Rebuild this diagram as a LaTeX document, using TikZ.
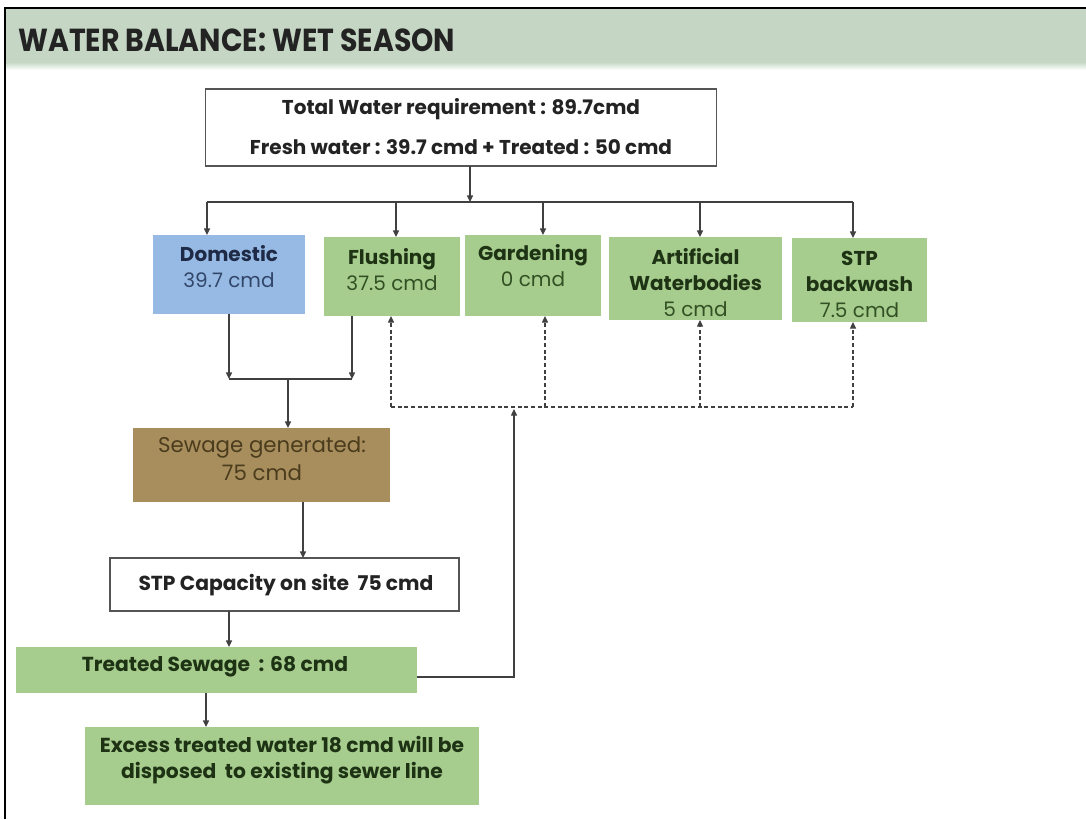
\documentclass[tikz,border=0pt]{standalone}
\usepackage{fontspec}
\setmainfont{Poppins}
\usepackage{graphicx}
\usetikzlibrary{arrows.meta}
\definecolor{hdrgreen}{RGB}{197,215,196}
\definecolor{domblue}{RGB}{150,186,228}
\definecolor{boxgreen}{RGB}{166,205,142}
\definecolor{sewbrown}{RGB}{168,142,92}
\definecolor{linegray}{RGB}{64,64,64}
\definecolor{bordergray}{RGB}{85,85,85}
\definecolor{txtdark}{RGB}{35,35,35}
\definecolor{navytxt}{RGB}{30,42,70}
\definecolor{blueval}{RGB}{50,70,105}
\definecolor{greentxt}{RGB}{30,50,20}
\definecolor{greenval}{RGB}{50,80,35}
\definecolor{browntxt}{RGB}{75,60,30}
\tikzset{
  sz/.style 2 args={minimum width=#1*0.75pt, minimum height=#2*0.75pt},
  base/.style={rectangle, inner sep=0pt, outer sep=0pt},
  whitebox/.style={base, draw=bordergray, line width=1.4pt, fill=white},
  bluebox/.style={base, fill=domblue},
  greenbox/.style={base, fill=boxgreen},
  brownbox/.style={base, fill=sewbrown},
  lbl/.style={inner sep=0pt, align=center, font=\fontsize{15}{19.5}\selectfont},
  conn/.style={draw=linegray, line width=1pt, -{Triangle[length=5pt,width=4.5pt]}},
  plain/.style={draw=linegray, line width=1pt},
  dline/.style={draw=linegray, line width=1pt, dash pattern=on 3pt off 2pt},
  dconn/.style={dline, -{Triangle[length=5pt,width=4.5pt]}},
}
\begin{document}
\begin{tikzpicture}[x=0.75pt,y=-0.75pt]
\useasboundingbox (0,0) rectangle (1086,819);
\fill[white] (0,0) rectangle (1086,819);
% header band
\fill[hdrgreen] (5,9) rectangle (1086,62);
\shade[top color=hdrgreen, bottom color=white] (5,62) rectangle (1086,70);
\draw[black, line width=1.2pt] (5,819) -- (5,8) -- (1086,8);
\node[anchor=west, inner sep=0pt, text=txtdark] (title) at (18,40)
  {\resizebox{327.75pt}{17pt}{\bfseries WATER BALANCE: WET SEASON}};

% top box
\node[whitebox, sz={511}{77}] (top) at (461,127.5) {};
\node[lbl, text=txtdark, font=\bfseries\fontsize{15}{30}\selectfont] (topT) at (461,127)
  {Total Water requirement : 89.7cmd\\Fresh water : 39.7 cmd + Treated : 50 cmd};

% use boxes
\node[bluebox, sz={152}{79}] (dom) at (229,274.5) {};
\node[lbl] (domT) at (229,267) {\textcolor{navytxt}{\bfseries Domestic}\\\textcolor{blueval}{39.7 cmd}};
\node[greenbox, sz={136}{79}] (flu) at (392,276.5) {};
\node[lbl] (fluT) at (392,270) {\textcolor{greentxt}{\bfseries Flushing}\\\textcolor{greenval}{37.5 cmd}};
\node[greenbox, sz={136}{81}] (gar) at (533,275.5) {};
\node[lbl] (garT) at (533,266) {\textcolor{greentxt}{\bfseries Gardening}\\\textcolor{greenval}{0 cmd}};
\node[greenbox, sz={173}{83}] (art) at (695.5,278.5) {};
\node[lbl] (artT) at (695.5,282.5) {\textcolor{greentxt}{\bfseries Artificial}\\\textcolor{greentxt}{\bfseries Waterbodies}\\\textcolor{greenval}{5 cmd}};
\node[greenbox, sz={135}{84}] (stb) at (859.5,280) {};
\node[lbl] (stbT) at (859.5,284.5) {\textcolor{greentxt}{\bfseries STP}\\\textcolor{greentxt}{\bfseries backwash}\\\textcolor{greenval}{7.5 cmd}};

% lower chain
\node[brownbox, sz={257}{74}] (sew) at (261.5,465) {};
\node[lbl, text=browntxt, font=\fontsize{16}{21}\selectfont] (sewT) at (262,459) {Sewage generated:\\75 cmd};
\node[whitebox, sz={349}{53}] (stp) at (284.5,584.5) {};
\node[lbl, text=txtdark, font=\bfseries\fontsize{15.2}{19.5}\selectfont] (stpT) at (286,585) {STP Capacity on site\ \ 75 cmd};
\node[greenbox, sz={401}{46}] (tre) at (216.5,670) {};
\node[lbl, text=greentxt, font=\bfseries\fontsize{15.2}{19.5}\selectfont] (treT) at (215,667) {Treated Sewage\ \ : 68 cmd};
\node[greenbox, sz={394}{78}] (exc) at (282,766) {};
\node[lbl, text=greentxt, font=\bfseries\fontsize{15.2}{19.5}\selectfont] (excT) at (282,760) {Excess treated water 18 cmd will be\\disposed\ \ to existing sewer line};

% distribution bus
\coordinate (b0) at (470,202);
\coordinate (bD) at (207,202);
\coordinate (bF) at (396,202);
\coordinate (bG) at (543,202);
\coordinate (bA) at (700,202);
\coordinate (bS) at (853,202);
\draw[conn] (top.south -| b0) -- (b0);
\draw[plain] (bD) -- (bS);
\draw[conn] (bD) -- (bD |- dom.north);
\draw[conn] (bF) -- (bF |- flu.north);
\draw[conn] (bG) -- (bG |- gar.north);
\draw[conn] (bA) -- (bA |- art.north);
\draw[conn] (bS) -- (bS |- stb.north);

% sewage collection
\coordinate (j1) at (229,379);
\coordinate (j2) at (352,379);
\coordinate (j3) at (288,379);
\draw[conn] (j1 |- dom.south) -- (j1);
\draw[conn] (j2 |- flu.south) -- (j2);
\draw[plain] (j1) -- (j2);
\draw[conn] (j3) -- (j3 |- sew.north);

% treatment chain
\coordinate (s1) at (303,530);
\coordinate (s2) at (229,630);
\coordinate (s3) at (206,710);
\draw[conn] (s1 |- sew.south) -- (s1 |- stp.north);
\draw[conn] (s2 |- stp.south) -- (s2 |- tre.north);
\draw[conn] (s3 |- tre.south) -- (s3 |- exc.north);

% recycled water
\coordinate (fs) at (417,677);
\coordinate (fb) at (514,409);
\draw[conn] (fs) -| (fb);
\coordinate (d1) at (391,407);
\coordinate (d2) at (545,407);
\coordinate (d3) at (700,407);
\coordinate (d4) at (853,407);
\draw[dline] (d1) -- (d4);
\draw[dconn] (d1) -- (d1 |- flu.south);
\draw[dconn] (d2) -- (d2 |- gar.south);
\draw[dconn] (d3) -- (d3 |- art.south);
\draw[dconn] (d4) -- (d4 |- stb.south);
\end{tikzpicture}
\end{document}
